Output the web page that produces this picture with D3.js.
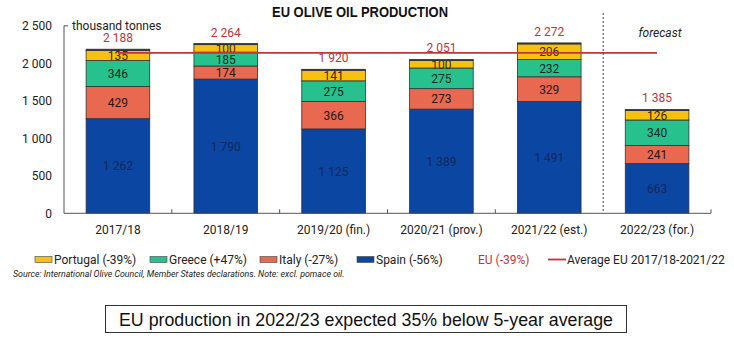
<!DOCTYPE html>
<html>
<head>
<meta charset="utf-8">
<script src="https://d3js.org/d3.v7.min.js"></script>
<style>
  body { margin: 0; background: #fff; }
  svg { font-family: Roboto, "Liberation Sans", sans-serif; }
</style>
</head>
<body>
<svg width="734" height="339"></svg>
<script>
const years = ["2017/18", "2018/19", "2019/20 (fin.)", "2020/21 (prov.)", "2021/22 (est.)", "2022/23 (for.)"];
const spain = [1262, 1790, 1125, 1389, 1491, 663];
const italy = [429, 174, 366, 273, 329, 241];
const greece = [346, 185, 275, 275, 232, 340];
const portugal = [135, 100, 141, 100, 206, 126];
const totals = [2188, 2264, 1920, 2051, 2272, 1385];
const yTicks = [0, 500, 1000, 1500, 2000, 2500];

const legendNames = ["Portugal (-39%)", "Greece (+47%)", "Italy (-27%)", "Spain (-56%)"];

// rest of EU = total minus the four named countries
const other = totals.map((t, i) => t - spain[i] - italy[i] - greece[i] - portugal[i]);
// average of the five seasons before the forecast
const avgEU = d3.mean(totals.slice(0, 5));

const series = [
  {key: "spain", vals: spain, fill: "#0b46a2", text: "#13285a"},
  {key: "italy", vals: italy, fill: "#e8694f", text: "#2a1510"},
  {key: "greece", vals: greece, fill: "#26c18d", text: "#10291f"},
  {key: "portugal", vals: portugal, fill: "#f8c010", text: "#3a2a00"},
  {key: "other", vals: other, fill: "#2a2a2a", text: null}
];

const red = "#c0343c";
const fmt = v => d3.format(",")(v).replace(/,/g, " ");

const svg = d3.select("svg");
const x = d3.scaleBand().domain(years).range([64, 711]).paddingInner(0.41).paddingOuter(0.205);
const y = d3.scaleLinear().domain([0, 2500]).range([213.3, 25.8]);
const step = x.step();
const x0 = 64;

// stacked bars
const g = svg.append("g");
years.forEach((yr, i) => {
  let base = 0;
  series.forEach(s => {
    const v = s.vals[i];
    g.append("rect")
      .attr("x", x(yr))
      .attr("y", y(base + v))
      .attr("width", x.bandwidth())
      .attr("height", y(base) - y(base + v))
      .attr("fill", s.fill)
      .attr("stroke", "#333")
      .attr("stroke-width", 0.8);
    if (s.text) {
      g.append("text")
        .attr("x", x(yr) + x.bandwidth() / 2)
        .attr("y", y(base + v / 2) + 4.5)
        .attr("text-anchor", "middle")
        .attr("font-size", 12)
        .attr("fill", s.text)
        .text(fmt(v));
    }
    base += v;
  });
  svg.append("text")
    .attr("x", x(yr) + x.bandwidth() / 2)
    .attr("y", y(totals[i]) - 7)
    .attr("text-anchor", "middle")
    .attr("font-size", 12)
    .attr("fill", red)
    .text(fmt(totals[i]));
});

// average line
svg.append("line")
  .attr("x1", x(years[0]) + x.bandwidth() / 2)
  .attr("x2", x(years[5]) + x.bandwidth() / 2)
  .attr("y1", y(avgEU)).attr("y2", y(avgEU))
  .attr("stroke", red).attr("stroke-width", 1.6);

// axes
const axisCol = "#555";
svg.append("line").attr("x1", x0).attr("x2", x0).attr("y1", y(2500)).attr("y2", y(0))
  .attr("stroke", axisCol);
svg.append("line").attr("x1", x0).attr("x2", x0 + 4).attr("y1", y(2500)).attr("y2", y(2500))
  .attr("stroke", axisCol);
svg.append("line").attr("x1", x0).attr("x2", 711).attr("y1", y(0)).attr("y2", y(0))
  .attr("stroke", axisCol);
years.forEach((yr, i) => {
  if (i === 4) return;
  const bx = x0 + step * (i + 1);
  svg.append("line").attr("x1", bx).attr("x2", bx).attr("y1", y(0)).attr("y2", y(0) - 4)
    .attr("stroke", axisCol);
});

yTicks.forEach(t => {
  svg.append("text")
    .attr("x", 52).attr("y", y(t) + 4.5)
    .attr("text-anchor", "end")
    .attr("font-size", 12).attr("fill", "#222")
    .text(fmt(t));
});
years.forEach(yr => {
  svg.append("text")
    .attr("x", x(yr) + x.bandwidth() / 2).attr("y", 234)
    .attr("text-anchor", "middle")
    .attr("font-size", 12).attr("fill", "#222")
    .text(yr);
});

// forecast divider
const dx = x0 + step * 5;
svg.append("line").attr("x1", dx).attr("x2", dx).attr("y1", 13).attr("y2", y(0))
  .attr("stroke", "#444").attr("stroke-dasharray", "2,2");
svg.append("text").attr("x", 660).attr("y", 37).attr("text-anchor", "middle")
  .attr("font-size", 12).attr("font-style", "italic").attr("fill", "#222").text("forecast");

svg.append("text").attr("x", 72).attr("y", 29.5)
  .attr("font-size", 12).attr("fill", "#222").text("thousand tonnes");

// title
svg.append("text").attr("x", 360).attr("y", 17).attr("text-anchor", "middle")
  .attr("font-family", "'Liberation Sans', sans-serif")
  .attr("font-size", 14.5).attr("font-weight", "bold").attr("fill", "#111")
  .attr("textLength", 176).attr("lengthAdjust", "spacingAndGlyphs")
  .text("EU OLIVE OIL PRODUCTION");

// legend
const legX = [35, 150, 260, 357];
const legFill = ["#f8c010", "#26c18d", "#e8694f", "#0b46a2"];
legendNames.forEach((n, i) => {
  svg.append("rect").attr("x", legX[i]).attr("y", 256.5).attr("width", 17).attr("height", 6)
    .attr("fill", legFill[i]).attr("stroke", "#444").attr("stroke-width", 0.6);
  svg.append("text").attr("x", legX[i] + 19).attr("y", 264)
    .attr("font-size", 12).attr("fill", "#222").text(n);
});
svg.append("text").attr("x", 478).attr("y", 264)
  .attr("font-size", 12).attr("fill", red).text("EU (-39%)");
svg.append("line").attr("x1", 548).attr("x2", 566).attr("y1", 259.5).attr("y2", 259.5)
  .attr("stroke", red).attr("stroke-width", 1.8);
svg.append("text").attr("x", 567).attr("y", 264)
  .attr("font-size", 12).attr("fill", "#222").text("Average EU 2017/18-2021/22");

svg.append("text").attr("x", 13).attr("y", 276.5)
  .attr("font-size", 8.8).attr("font-style", "italic").attr("fill", "#222")
  .text("Source: International Olive Council, Member States declarations. Note: excl. pomace oil.");

// summary box
svg.append("rect").attr("x", 105.5).attr("y", 305.5).attr("width", 521).attr("height", 27)
  .attr("fill", "none").attr("stroke", "#333").attr("stroke-width", 1);
svg.append("text").attr("x", 366).attr("y", 325.5).attr("text-anchor", "middle")
  .attr("font-family", "'Liberation Sans', sans-serif")
  .attr("font-size", 17.5).attr("fill", "#111")
  .attr("textLength", 494).attr("lengthAdjust", "spacingAndGlyphs")
  .text("EU production in 2022/23 expected 35% below 5-year average");
</script>
</body>
</html>
